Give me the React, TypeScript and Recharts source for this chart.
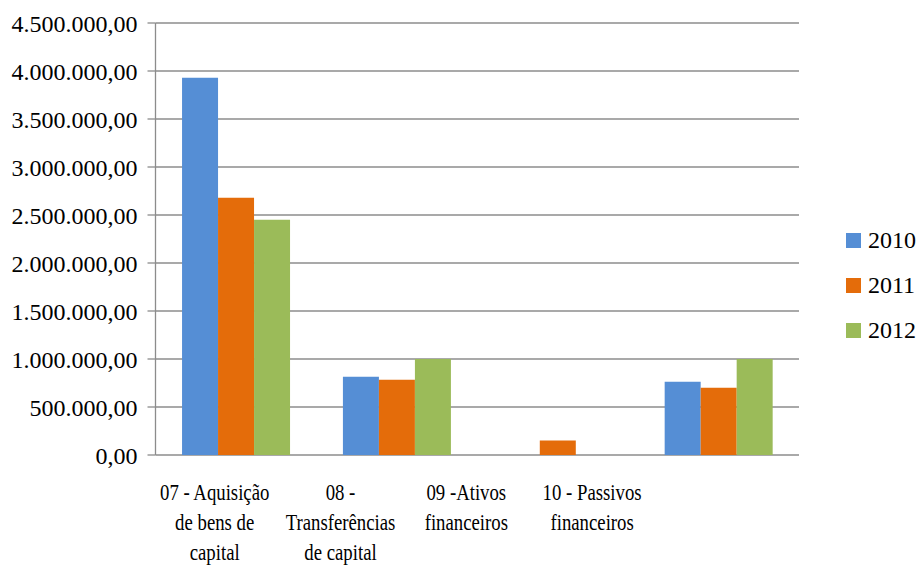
import { BarChart, Bar, XAxis, YAxis, CartesianGrid } from 'recharts';

const categories = [
    "07 - Aquisição de bens de capital",
    "08 - Transferências de capital",
    "09 -Ativos financeiros",
    "10 - Passivos financeiros",
];
const categoryLines = [
    ["07 - Aquisição", "de bens de", "capital"],
    ["08 -", "Transferências", "de capital"],
    ["09 -Ativos", "financeiros"],
    ["10 - Passivos", "financeiros"],
];
const years = ["2010", "2011", "2012"];
const values2010 = [3930000, 816000, 0, 763000];
const values2011 = [2680000, 784000, 150000, 700000];
const values2012 = [2450000, 1000000, 0, 1000000];
const yTicks = [0, 500000, 1000000, 1500000, 2000000, 2500000, 3000000, 3500000, 4000000, 4500000];
const boundaryTicks = [0, 1, 2, 3, 4];

const colors = ["#558ED5", "#E46C0A", "#9BBB59"];
const gray = "#8c8c8c";
const font = "Liberation Serif, Tinos, DejaVu Serif, Times New Roman, serif";

const data = categories.map((name, i) => ({
    name,
    "2010": values2010[i],
    "2011": values2011[i],
    "2012": values2012[i],
}));

const formatBR = (v: number) => {
    const s = Math.round(v).toString().replace(/\B(?=(\d{3})+(?!\d))/g, ".");
    return s + ",00";
};

// labels in the original sit squeezed toward the left of their columns
const CategoryTick = (props: any) => {
    const { x, y, index } = props;
    const lines = categoryLines[index] || [];
    const cx = x * 0.782 + 30.2;
    return (
        <g transform={`translate(${cx},${y})`}>
            <text transform="scale(0.782,1)" textAnchor="middle" style={{ fontFamily: font }} fontSize={24} fill="#000">
                {lines.map((l, k) => (
                    <tspan key={k} x={0} y={45 + k * 30}>{l}</tspan>
                ))}
            </text>
        </g>
    );
};

const YTick = (props: any) => {
    const { x, y, payload } = props;
    return (
        <text x={x} y={y} dy="0.355em" textAnchor="end" style={{ fontFamily: font }} fontSize={24} fill="#000">
            {formatBR(payload.value)}
        </text>
    );
};

export default function App() {
    return (
        <div style={{ position: 'absolute', left: 0, top: 0, width: 917, height: 566, background: '#fff', fontFamily: font }}>
            <BarChart
                width={917}
                height={566}
                data={data}
                margin={{ top: 23, right: 118, bottom: 0, left: 0 }}
                barGap={0}
                barCategoryGap="16.5%"
            >
                <CartesianGrid vertical={false} stroke={gray} strokeWidth={1.3} />
                <XAxis
                    xAxisId="bounds"
                    type="number"
                    domain={[0, 4]}
                    ticks={boundaryTicks}
                    tick={false}
                    tickSize={7}
                    height={0}
                    stroke={gray}
                    strokeWidth={1.3}
                />
                <XAxis
                    xAxisId="cat"
                    dataKey="name"
                    axisLine={false}
                    tickLine={false}
                    tickSize={0}
                    tickMargin={0}
                    interval={0}
                    height={111}
                    tick={<CategoryTick />}
                />
                <YAxis
                    domain={[0, 4500000]}
                    ticks={yTicks}
                    width={155.5}
                    tickSize={8}
                    tickMargin={10}
                    stroke={gray}
                    strokeWidth={1.3}
                    tick={<YTick />}
                />
                {years.map((y, i) => (
                    <Bar key={y} xAxisId="cat" dataKey={y} fill={colors[i]} isAnimationActive={false} />
                ))}
            </BarChart>
            <div style={{ position: 'absolute', left: 846, top: 218, fontSize: 24, color: '#000' }}>
                {years.map((y, i) => (
                    <div key={y} style={{ display: 'flex', alignItems: 'center', height: 45 }}>
                        <span style={{ display: 'inline-block', width: 15, height: 15, background: colors[i], marginRight: 7 }} />
                        <span>{y}</span>
                    </div>
                ))}
            </div>
        </div>
    );
}
